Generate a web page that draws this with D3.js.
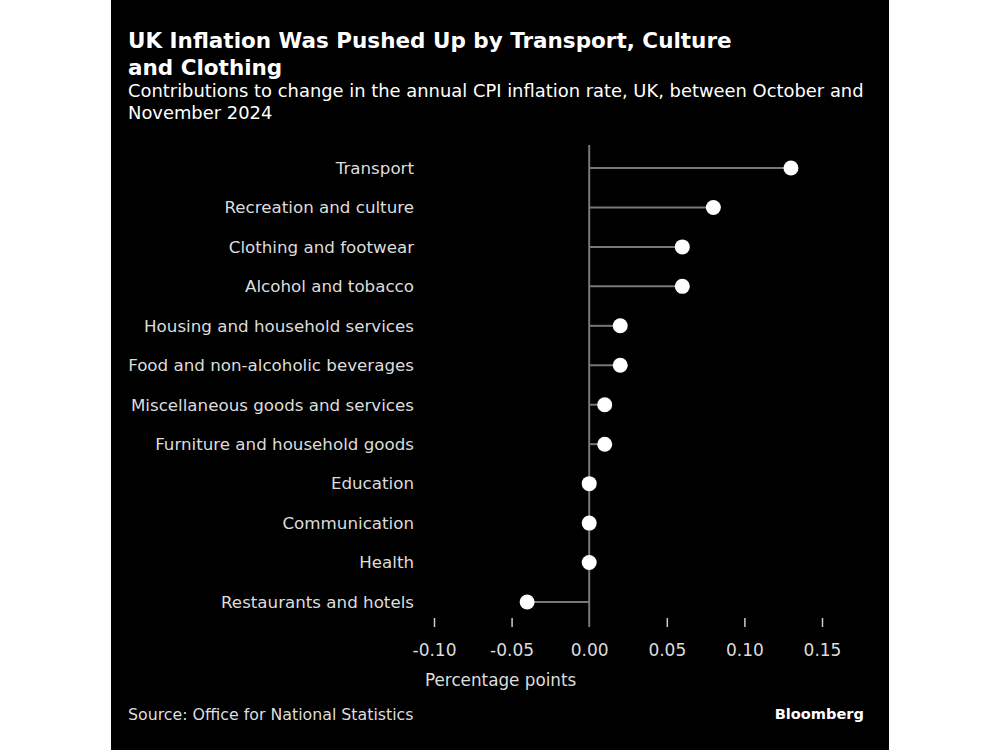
<!DOCTYPE html>
<html><head><meta charset="utf-8">
<script src="https://cdn.jsdelivr.net/npm/d3@7"></script>
<style>
html,body{margin:0;padding:0;background:#fff;}
svg{display:block;}
text{font-family:"DejaVu Sans",sans-serif;}
</style></head>
<body>
<svg id="chart" width="1000" height="750"></svg>
<script>
const categories = ["Transport","Recreation and culture","Clothing and footwear","Alcohol and tobacco","Housing and household services","Food and non-alcoholic beverages","Miscellaneous goods and services","Furniture and household goods","Education","Communication","Health","Restaurants and hotels"];
const values = [0.13,0.08,0.06,0.06,0.02,0.02,0.01,0.01,0.00,0.00,0.00,-0.04];
const tickValues = [-0.10,-0.05,0.00,0.05,0.10,0.15];
const titleLines = ["UK Inflation Was Pushed Up by Transport, Culture","and Clothing"];
const subtitleLines = ["Contributions to change in the annual CPI inflation rate, UK, between October and","November 2024"];

const svg = d3.select("#chart");
svg.append("rect").attr("x",111).attr("y",0).attr("width",778).attr("height",750).attr("fill","#000");

const x = d3.scaleLinear().domain([-0.10,0.15]).range([434,822]);
const y = d3.scalePoint().domain(categories).range([168,602]);

svg.append("g").selectAll("text").data(titleLines).join("text")
  .attr("x",128).attr("y",(d,i)=>48+i*27).attr("fill","#fff")
  .attr("font-size",21.5).attr("font-weight","bold").text(d=>d);
svg.append("g").selectAll("text").data(subtitleLines).join("text")
  .attr("x",128).attr("y",(d,i)=>97+i*22).attr("fill","#fff")
  .attr("font-size",17.9).text(d=>d);

// zero line
svg.append("line").attr("x1",x(0)).attr("x2",x(0)).attr("y1",145).attr("y2",627)
  .attr("stroke","#777").attr("stroke-width",2);

// axis
const fmt = d3.format(".2f");
const axis = d3.axisBottom(x).tickValues(tickValues).tickFormat(d=>fmt(d).replace("\u2212","-")).tickSize(9).tickPadding(17);
const ag = svg.append("g").attr("transform","translate(0,618)").call(axis);
ag.select(".domain").remove();
ag.selectAll(".tick line").attr("stroke",d=>d===0?"none":"#ccc").attr("stroke-width",1.5);
ag.selectAll(".tick text").attr("fill","#ddd").attr("font-size",17).attr("font-family","DejaVu Sans, sans-serif");

// category labels
svg.append("g").selectAll("text").data(categories).join("text")
  .attr("x",414).attr("y",d=>y(d)).attr("dy","0.35em").attr("text-anchor","end")
  .attr("fill","#ddd").attr("font-size",16.7).text(d=>d);

const data = categories.map((c,i)=>({c,v:values[i]}));
svg.append("g").selectAll("line").data(data).join("line")
  .attr("x1",x(0)).attr("x2",d=>x(d.v)).attr("y1",d=>y(d.c)).attr("y2",d=>y(d.c))
  .attr("stroke","#777").attr("stroke-width",2);
svg.append("g").selectAll("circle").data(data).join("circle")
  .attr("cx",d=>x(d.v)).attr("cy",d=>y(d.c)).attr("r",7.5).attr("fill","#fff");

svg.append("text").attr("x",425).attr("y",686).attr("fill","#ddd").attr("font-size",16.8).text("Percentage points");
svg.append("text").attr("x",128).attr("y",720).attr("fill","#ddd").attr("font-size",15.8).text("Source: Office for National Statistics");
svg.append("text").attr("x",864).attr("y",719).attr("text-anchor","end").attr("fill","#fff").attr("font-size",14.6).attr("font-weight","bold")
  .attr("font-family","DejaVu Sans Condensed, DejaVu Sans, sans-serif").text("Bloomberg");
</script>
</body></html>
